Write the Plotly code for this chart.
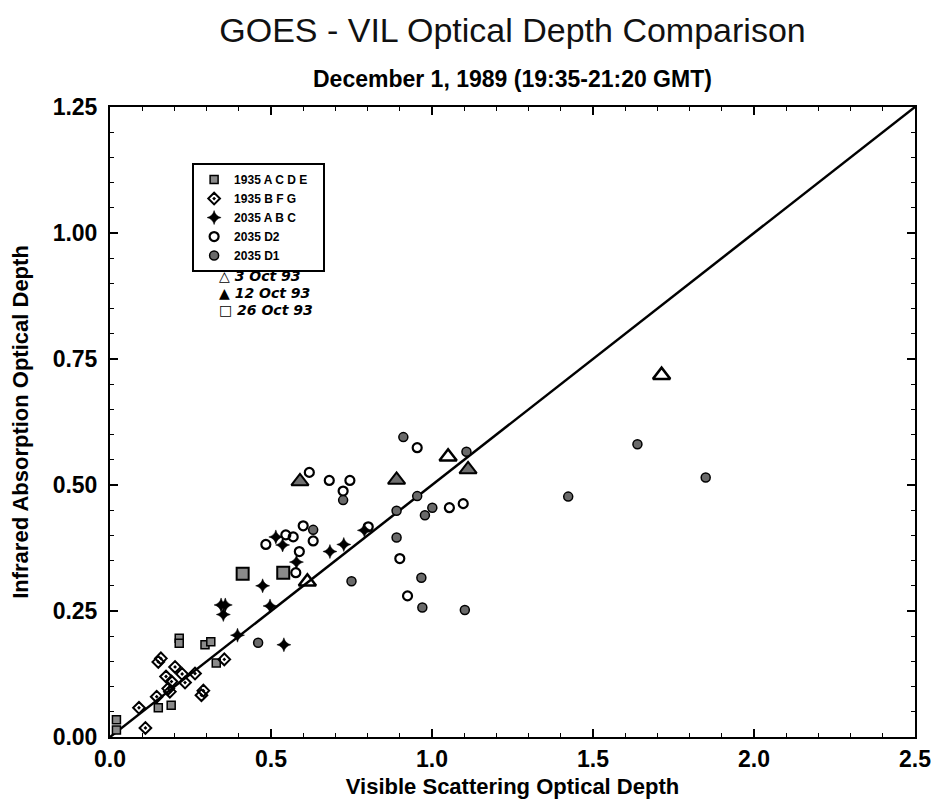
import plotly.graph_objects as go

# ---- data ----
acde_x = [0.02, 0.02, 0.15, 0.19, 0.215, 0.215, 0.295, 0.313, 0.33]
acde_y = [0.034, 0.014, 0.058, 0.063, 0.196, 0.186, 0.183, 0.189, 0.147]

bfg_x = [0.11, 0.09, 0.145, 0.186, 0.181, 0.174, 0.191, 0.15, 0.158, 0.284, 0.29, 0.355, 0.202, 0.224, 0.233, 0.264]
bfg_y = [0.018, 0.058, 0.080, 0.090, 0.096, 0.120, 0.110, 0.149, 0.156, 0.083, 0.092, 0.154, 0.139, 0.125, 0.108, 0.126]

abc_x = [0.345, 0.358, 0.352, 0.396, 0.474, 0.497, 0.540, 0.515, 0.536, 0.579, 0.683, 0.726, 0.79]
abc_y = [0.262, 0.262, 0.243, 0.202, 0.300, 0.260, 0.183, 0.397, 0.381, 0.347, 0.368, 0.382, 0.41]

d2_x = [0.600, 0.546, 0.569, 0.484, 0.631, 0.588, 0.577, 0.619, 0.681, 0.745, 0.724, 0.954, 0.802, 1.054, 1.097, 0.900, 0.924]
d2_y = [0.419, 0.401, 0.397, 0.382, 0.389, 0.368, 0.326, 0.525, 0.509, 0.509, 0.488, 0.574, 0.417, 0.455, 0.463, 0.354, 0.280]

d1_x = [0.460, 0.631, 0.724, 0.750, 0.911, 1.107, 0.954, 0.890, 1.001, 0.978, 0.890, 0.967, 0.970, 1.102, 1.423, 1.638, 1.850]
d1_y = [0.187, 0.411, 0.470, 0.309, 0.595, 0.566, 0.478, 0.449, 0.455, 0.440, 0.396, 0.316, 0.257, 0.252, 0.477, 0.581, 0.515]

oct30_x = [0.613, 1.050, 1.713]
oct30_y = [0.308, 0.556, 0.718]
oct12_x = [0.590, 0.890, 1.112]
oct12_y = [0.507, 0.510, 0.531]
oct26_x = [0.412, 0.538]
oct26_y = [0.324, 0.326]

line_x = [0.0, 2.5]
line_slope = 0.5
line_y = [line_slope * v for v in line_x]

x_ticks = [0.0, 0.5, 1.0, 1.5, 2.0, 2.5]
y_ticks = [0.0, 0.25, 0.5, 0.75, 1.0, 1.25]

FONT = "Liberation Sans, Arial, Helvetica, sans-serif"
NB = "\u00a0"
fig = go.Figure()

fig.add_trace(go.Scatter(x=line_x, y=line_y, mode="lines",
                         line=dict(color="black", width=2.5), showlegend=False, hoverinfo="skip"))

fig.add_trace(go.Scatter(x=acde_x, y=acde_y, mode="markers", name="1935 A C D E" + NB * 3,
                         marker=dict(symbol="square", size=8, color="#8a8a8a",
                                     line=dict(color="black", width=1.5))))
fig.add_trace(go.Scatter(x=bfg_x, y=bfg_y, mode="markers", name="1935 B F G",
                         marker=dict(symbol="diamond-open-dot", size=9, color="black",
                                     line=dict(color="black", width=2))))
fig.add_trace(go.Scatter(x=abc_x, y=abc_y, mode="markers", name="2035 A B C",
                         marker=dict(symbol="star-diamond", size=10, color="black",
                                     line=dict(color="black", width=0.5))))
fig.add_trace(go.Scatter(x=d2_x, y=d2_y, mode="markers", name="2035 D2",
                         marker=dict(symbol="circle-open", size=9, color="black",
                                     line=dict(color="black", width=2.2))))
fig.add_trace(go.Scatter(x=d1_x, y=d1_y, mode="markers", name="2035 D1",
                         marker=dict(symbol="circle", size=9, color="#6a6a6a",
                                     line=dict(color="black", width=1.5))))

fig.add_trace(go.Scatter(x=oct30_x, y=oct30_y, mode="markers", name="3 Oct 93", showlegend=False,
                         marker=dict(symbol="triangle-up-open", size=15, color="black",
                                     line=dict(color="black", width=2.5))))
fig.add_trace(go.Scatter(x=oct12_x, y=oct12_y, mode="markers", name="12 Oct 93", showlegend=False,
                         marker=dict(symbol="triangle-up", size=15, color="#6f6f6f",
                                     line=dict(color="black", width=2))))
fig.add_trace(go.Scatter(x=oct26_x, y=oct26_y, mode="markers", name="26 Oct 93", showlegend=False,
                         marker=dict(symbol="square", size=12, color="#8a8a8a",
                                     line=dict(color="black", width=2))))

axis_common = dict(showgrid=False, zeroline=False, showline=True, linecolor="black", linewidth=2,
                   mirror="ticks", ticks="inside", tickcolor="black", tickwidth=1.5, ticklen=8,
                   automargin=False,
                   tickfont=dict(family=FONT, size=23, color="black", weight="bold"))

fig.update_xaxes(range=[0, 2.5], tickvals=x_ticks, tickformat=".1f",
                 minor=dict(dtick=0.1, ticks="inside", ticklen=4, tickcolor="black", tickwidth=1),
                 title=dict(text="Visible Scattering Optical Depth", standoff=8,
                            font=dict(family=FONT, size=22, color="black", weight="bold")),
                 **axis_common)
fig.update_yaxes(range=[0, 1.25], tickvals=y_ticks, tickformat=".2f",
                 minor=dict(dtick=0.05, ticks="inside", ticklen=4, tickcolor="black", tickwidth=1),
                 ticklabelstandoff=6,
                 title=dict(text="Infrared Absorption Optical Depth", standoff=18,
                            font=dict(family=FONT, size=22, color="black", weight="bold")),
                 **axis_common)

note_font = dict(family="DejaVu Sans", size=14, color="black", style="italic", weight="bold")
SYM = "<span style='font-family:DejaVu Sans;font-style:normal;color:#000'>{}</span>"

fig.update_layout(
    width=939, height=804,
    margin=dict(l=102, r=32, t=99, b=75, autoexpand=False),
    paper_bgcolor="white", plot_bgcolor="white",
    title=dict(text="GOES - VIL Optical Depth Comparison", x=0.5, xref="paper",
               y=1 - 22 / 804, yref="container", xanchor="center", yanchor="middle",
               font=dict(family=FONT, size=34, color="#111")),
    legend=dict(x=0.102, y=0.911, xanchor="left", yanchor="top",
                bordercolor="black", borderwidth=2, bgcolor="white",
                font=dict(family=FONT, size=12, color="black", weight="bold"),
                itemwidth=30, tracegroupgap=0),
    annotations=[
        dict(text="December 1, 1989 (19:35-21:20 GMT)", x=0.5, y=1, xref="paper", yref="paper",
             xanchor="center", yanchor="bottom", yshift=13, showarrow=False,
             font=dict(family=FONT, size=23, color="black", weight="bold")),
        dict(text=SYM.format("\u25b3") + " 3 Oct 93", x=0.133, y=0.731, xref="paper", yref="paper",
             xanchor="left", yanchor="middle", showarrow=False, font=note_font),
        dict(text=SYM.format("\u25b2") + " 12 Oct 93", x=0.133, y=0.704, xref="paper", yref="paper",
             xanchor="left", yanchor="middle", showarrow=False, font=note_font),
        dict(text=SYM.format("\u25a1") + " 26 Oct 93", x=0.133, y=0.677, xref="paper", yref="paper",
             xanchor="left", yanchor="middle", showarrow=False, font=note_font),
    ],
)

fig.write_html("out.html")
